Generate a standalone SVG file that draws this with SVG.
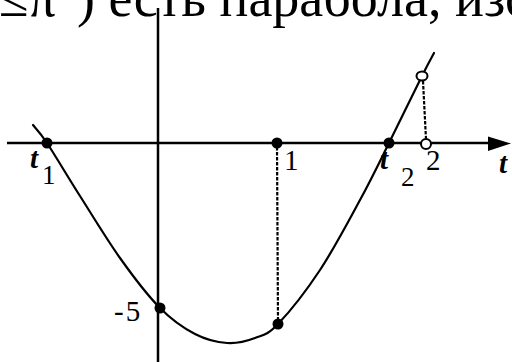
<svg xmlns="http://www.w3.org/2000/svg" width="512" height="362" viewBox="0 0 512 362">
<style>
.ax{stroke:#000;stroke-width:2.5;fill:none}
.cv{stroke:#000;stroke-width:2.2;fill:none;stroke-linecap:round;stroke-linejoin:round}
.dash{stroke:#000;stroke-width:2.2;stroke-dasharray:3.5 1.5;fill:none}
.dot{fill:#000}
.open{fill:#fff;stroke:#000;stroke-width:2}
.lbl{font-family:"Liberation Serif","Times New Roman",serif;font-size:29px;fill:#000}
.it{font-style:italic;font-weight:bold}
.sub{font-size:27px}
.head{font-family:"Liberation Serif","Times New Roman",serif;font-size:54px;fill:#000}
</style>
<rect width="512" height="362" fill="#fff"/>
<text class="head" x="-1" y="16">≤π<tspan dy="-40" font-size="32">2</tspan><tspan x="77" dy="40">) есть парабола, изо</tspan></text>
<g id="connectors">
<line class="ax" x1="7" y1="143" x2="492" y2="143"/>
<polygon points="488,136.5 511,143.5 488,151" fill="#000"/>
<line class="ax" x1="158" y1="8" x2="158" y2="362"/>
<path class="cv" d="M33,125 C35.3,128 39.2,131.2 47,143 C54.8,154.8 67.8,176.8 80,196 C92.2,215.2 106.7,239.3 120,258 C133.3,276.7 147.5,295.3 160,308 C172.5,320.7 183.8,328.2 195,334 C206.2,339.8 217,342.3 227,343 C237,343.7 246.5,341.2 255,338 C263.5,334.8 267.2,335.3 278,324 C288.8,312.7 306.3,290.7 320,270 C333.7,249.3 348.5,221.2 360,200 C371.5,178.8 378.7,163.7 389,143 C399.3,122.3 414.5,91 422,76 C429.5,61 432,56.8 434,53"/>
<line class="dash" x1="277" y1="147" x2="278" y2="321"/>
<line class="dash" x1="423" y1="81" x2="426" y2="139"/>
</g>
<g id="t1"><circle class="dot" cx="47" cy="143" r="5.5"/><text class="lbl it" x="30" y="168">t</text><text class="lbl sub" x="42" y="184">1</text></g>
<g id="p1"><circle class="dot" cx="277" cy="143" r="5.5"/><text class="lbl" x="284" y="170">1</text></g>
<g id="t2"><circle class="dot" cx="389" cy="143" r="5.5"/><text class="lbl it" x="380" y="169">t</text><text class="lbl sub" x="401" y="186">2</text></g>
<g id="p2"><circle class="open" cx="426" cy="144" r="5"/><text class="lbl" x="426" y="170">2</text></g>
<g id="p2top"><ellipse class="open" cx="422" cy="76" rx="5.5" ry="4.5"/></g>
<g id="taxis"><text class="lbl it" x="499" y="173">t</text></g>
<g id="m5"><circle class="dot" cx="160" cy="308" r="5.5"/><text class="lbl" x="114" y="321" letter-spacing="2">-5</text></g>
<g id="p1low"><circle class="dot" cx="278" cy="324" r="5.5"/></g>
</svg>
